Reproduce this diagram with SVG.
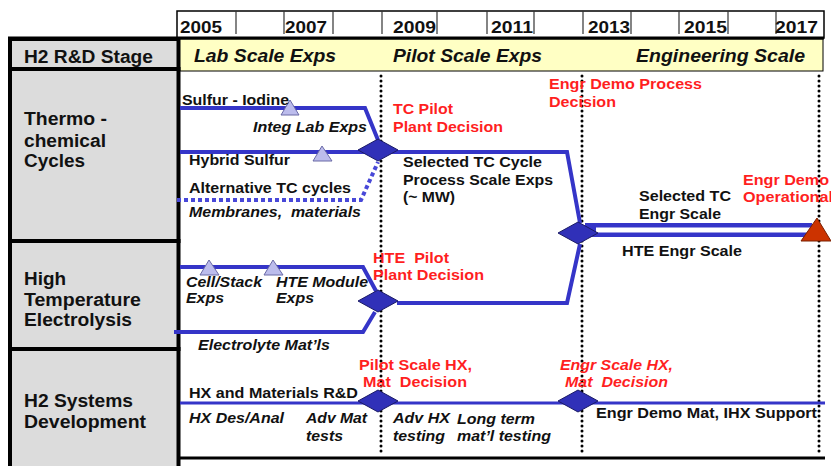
<svg xmlns="http://www.w3.org/2000/svg" width="831" height="466" viewBox="0 0 831 466">
  <defs>
    <style>
      .t { font-family: "Liberation Sans", Arial, sans-serif; font-weight: bold; font-size: 15px; fill: #111; }
      .i { font-style: italic; }
      .r { fill: #ff1f1f; }
      .row { font-size: 18px; }
      .yr { font-size: 17px; }
      .stg { font-size: 18px; font-style: italic; }
      .cell { fill: #dcdcdc; stroke: #000; stroke-width: 4; }
      .div { stroke: #333; stroke-width: 1.2; }
      .lane { fill: none; stroke: #3535c8; stroke-width: 4; }
      .alt { fill: none; stroke: #4848d8; stroke-width: 4; stroke-dasharray: 4 3; }
      .dots { stroke: #000; stroke-width: 3; stroke-linecap: round; stroke-dasharray: 0 5; }
      .ms { fill: #3030b8; stroke: #1a1a66; stroke-width: 1; }
      .tri { fill: #bcbcec; stroke: #6a6aa6; stroke-width: 1; }
    </style>
  </defs>

  <rect width="831" height="466" fill="#fff"/>

  <!-- year scale -->
  <g id="years">
    <rect x="177" y="11" width="647" height="27" fill="#fff" stroke="#000" stroke-width="1.5"/>
    <g class="div">
      <line x1="236" y1="11" x2="236" y2="34"/>
      <line x1="284" y1="11" x2="284" y2="34"/>
      <line x1="333" y1="11" x2="333" y2="34"/>
      <line x1="382" y1="11" x2="382" y2="34"/>
      <line x1="437" y1="11" x2="437" y2="34"/>
      <line x1="487" y1="11" x2="487" y2="34"/>
      <line x1="534" y1="11" x2="534" y2="34"/>
      <line x1="583" y1="11" x2="583" y2="34"/>
      <line x1="631" y1="11" x2="631" y2="34"/>
      <line x1="679" y1="11" x2="679" y2="34"/>
      <line x1="728" y1="11" x2="728" y2="34"/>
      <line x1="776" y1="11" x2="776" y2="34"/>
    </g>
    <text class="t yr" x="180" y="33" textLength="42" lengthAdjust="spacingAndGlyphs">2005</text>
    <text class="t yr" x="285" y="33" textLength="42" lengthAdjust="spacingAndGlyphs">2007</text>
    <text class="t yr" x="393" y="33" textLength="43" lengthAdjust="spacingAndGlyphs">2009</text>
    <text class="t yr" x="491" y="33" textLength="42" lengthAdjust="spacingAndGlyphs">2011</text>
    <text class="t yr" x="588" y="33" textLength="42" lengthAdjust="spacingAndGlyphs">2013</text>
    <text class="t yr" x="684" y="33" textLength="43" lengthAdjust="spacingAndGlyphs">2015</text>
    <text class="t yr" x="775" y="33" textLength="43" lengthAdjust="spacingAndGlyphs">2017</text>
  </g>

  <!-- stage band -->
  <g id="stage-band">
    <rect x="178" y="39" width="645" height="32" fill="#ffffc4" stroke="#000" stroke-width="1"/>
    <text class="t stg" x="194" y="62" textLength="142" lengthAdjust="spacingAndGlyphs">Lab Scale Exps</text>
    <text class="t stg" x="393" y="62" textLength="149" lengthAdjust="spacingAndGlyphs">Pilot Scale Exps</text>
    <text class="t stg" x="636" y="62" textLength="169" lengthAdjust="spacingAndGlyphs">Engineering Scale</text>
  </g>

  <!-- row headers -->
  <g id="row-stage">
    <rect class="cell" x="10" y="39" width="168.5" height="30"/>
    <text class="t row" x="24" y="63" textLength="129" lengthAdjust="spacingAndGlyphs">H2 R&amp;D Stage</text>
  </g>
  <g id="row-thermo">
    <rect class="cell" x="10" y="69" width="168.5" height="172"/>
    <text class="t row" x="24" y="125" textLength="83" lengthAdjust="spacingAndGlyphs">Thermo -</text>
    <text class="t row" x="24" y="147" textLength="82" lengthAdjust="spacingAndGlyphs">chemical</text>
    <text class="t row" x="24" y="167" textLength="61" lengthAdjust="spacingAndGlyphs">Cycles</text>
  </g>
  <g id="row-hte">
    <rect class="cell" x="10" y="241" width="168.5" height="108"/>
    <text class="t row" x="24" y="285" textLength="42" lengthAdjust="spacingAndGlyphs">High</text>
    <text class="t row" x="24" y="306" textLength="117" lengthAdjust="spacingAndGlyphs">Temperature</text>
    <text class="t row" x="24" y="326" textLength="108" lengthAdjust="spacingAndGlyphs">Electrolysis</text>
  </g>
  <g id="row-systems">
    <rect class="cell" x="10" y="349" width="168.5" height="130"/>
    <text class="t row" x="24" y="407" textLength="109" lengthAdjust="spacingAndGlyphs">H2 Systems</text>
    <text class="t row" x="24" y="428" textLength="122" lengthAdjust="spacingAndGlyphs">Development</text>
  </g>

  <!-- frame rules -->
  <line x1="8" y1="38" x2="824" y2="38" stroke="#000" stroke-width="3"/>
  <line x1="178" y1="458" x2="825" y2="458" stroke="#000" stroke-width="3"/>

  <!-- decision gates (dotted verticals) -->
  <g id="gates">
    <line class="dots" x1="381" y1="76" x2="381" y2="455"/>
    <line class="dots" x1="582" y1="76" x2="582" y2="452"/>
    <line class="dots" x1="819" y1="76" x2="819" y2="452"/>
  </g>

  <!-- connectors -->
  <g id="connectors">
    <path class="lane" d="M180,108 H365 L378,140"/>
    <path class="lane" d="M180,152 H567 L580,223"/>
    <path class="alt" d="M177,200 H361 L378,162"/>
    <path class="lane" d="M180,267 H363 L376,291"/>
    <path class="lane" d="M174,332 H363 L375,312"/>
    <path class="lane" d="M397,303 H567 L580,244"/>
    <line x1="585" y1="230" x2="812" y2="230" stroke="#3535c8" stroke-width="14"/>
    <line x1="596" y1="230" x2="812" y2="230" stroke="#fff" stroke-width="5"/>
    <line x1="180" y1="403" x2="825" y2="403" stroke="#3535c8" stroke-width="3"/>
  </g>

  <!-- milestones -->
  <g id="tri-si"><polygon class="tri" points="290,100 299,115 281,115"/></g>
  <g id="tri-hs"><polygon class="tri" points="322,146 332,161 313,161"/></g>
  <g id="tri-cell"><polygon class="tri" points="209,260 219,275 200,275"/></g>
  <g id="tri-module"><polygon class="tri" points="273,260 283,275 264,275"/></g>
  <g id="ms-tc-pilot"><polygon class="ms" points="358,150 378,139 398,150 378,161"/></g>
  <g id="ms-hte-pilot"><polygon class="ms" points="358,301 378,290 398,301 378,312"/></g>
  <g id="ms-hx-pilot"><polygon class="ms" points="358,401 378,390 398,401 378,412"/></g>
  <g id="ms-engr-process"><polygon class="ms" points="558,233 578,222 598,233 578,244"/></g>
  <g id="ms-engr-hx"><polygon class="ms" points="558,401 578,390 598,401 578,412"/></g>
  <g id="ms-engr-demo"><polygon points="817,218 831,241 801,241" fill="#cc3300" stroke="#7a2000" stroke-width="1"/></g>

  <!-- thermochemical labels -->
  <g id="lbl-thermo">
    <text class="t" x="182" y="105" textLength="107" lengthAdjust="spacingAndGlyphs">Sulfur - Iodine</text>
    <text class="t i" x="253" y="132" textLength="114" lengthAdjust="spacingAndGlyphs">Integ Lab Exps</text>
    <text class="t" x="189" y="165" textLength="101" lengthAdjust="spacingAndGlyphs">Hybrid Sulfur</text>
    <text class="t" x="189" y="193" textLength="162" lengthAdjust="spacingAndGlyphs">Alternative TC cycles</text>
    <text class="t i" x="189" y="217" textLength="172" lengthAdjust="spacingAndGlyphs" xml:space="preserve">Membranes,  materials</text>
    <text class="t r" x="393" y="114" textLength="60" lengthAdjust="spacingAndGlyphs">TC Pilot</text>
    <text class="t r" x="393" y="132" textLength="110" lengthAdjust="spacingAndGlyphs">Plant Decision</text>
    <text class="t r" x="549" y="89" textLength="153" lengthAdjust="spacingAndGlyphs">Engr Demo Process</text>
    <text class="t r" x="549" y="107" textLength="67" lengthAdjust="spacingAndGlyphs">Decision</text>
    <text class="t" x="403" y="167" textLength="139" lengthAdjust="spacingAndGlyphs">Selected TC Cycle</text>
    <text class="t" x="403" y="185" textLength="150" lengthAdjust="spacingAndGlyphs">Process Scale Exps</text>
    <text class="t" x="403" y="202" textLength="52" lengthAdjust="spacingAndGlyphs">(~ MW)</text>
    <text class="t" x="639" y="201" textLength="92" lengthAdjust="spacingAndGlyphs">Selected TC</text>
    <text class="t" x="639" y="219" textLength="82" lengthAdjust="spacingAndGlyphs">Engr Scale</text>
    <text class="t r" x="743" y="185" textLength="86" lengthAdjust="spacingAndGlyphs">Engr Demo</text>
    <text class="t r" x="743" y="202" textLength="90" lengthAdjust="spacingAndGlyphs">Operational</text>
  </g>

  <!-- electrolysis labels -->
  <g id="lbl-hte">
    <text class="t" x="622" y="256" textLength="120" lengthAdjust="spacingAndGlyphs">HTE Engr Scale</text>
    <text class="t r" x="373" y="263" textLength="76" lengthAdjust="spacingAndGlyphs" xml:space="preserve">HTE  Pilot</text>
    <text class="t r" x="373" y="280" textLength="111" lengthAdjust="spacingAndGlyphs">Plant Decision</text>
    <text class="t i" x="186" y="287" textLength="76" lengthAdjust="spacingAndGlyphs">Cell/Stack</text>
    <text class="t i" x="186" y="303" textLength="38" lengthAdjust="spacingAndGlyphs">Exps</text>
    <text class="t i" x="276" y="287" textLength="92" lengthAdjust="spacingAndGlyphs">HTE Module</text>
    <text class="t i" x="276" y="303" textLength="38" lengthAdjust="spacingAndGlyphs">Exps</text>
    <text class="t i" x="198" y="350" textLength="132" lengthAdjust="spacingAndGlyphs">Electrolyte Mat’ls</text>
  </g>

  <!-- systems labels -->
  <g id="lbl-systems">
    <text class="t r" x="359" y="370" textLength="113" lengthAdjust="spacingAndGlyphs">Pilot Scale HX,</text>
    <text class="t r" x="363" y="387" textLength="104" lengthAdjust="spacingAndGlyphs" xml:space="preserve">Mat  Decision</text>
    <text class="t" x="189" y="398" textLength="169" lengthAdjust="spacingAndGlyphs">HX and Materials R&amp;D</text>
    <text class="t i" x="189" y="423" textLength="95" lengthAdjust="spacingAndGlyphs">HX Des/Anal</text>
    <text class="t i" x="306" y="423" textLength="61" lengthAdjust="spacingAndGlyphs">Adv Mat</text>
    <text class="t i" x="306" y="441" textLength="37" lengthAdjust="spacingAndGlyphs">tests</text>
    <text class="t i" x="393" y="423" textLength="57" lengthAdjust="spacingAndGlyphs">Adv HX</text>
    <text class="t i" x="393" y="441" textLength="52" lengthAdjust="spacingAndGlyphs">testing</text>
    <text class="t i" x="457" y="424" textLength="78" lengthAdjust="spacingAndGlyphs">Long term</text>
    <text class="t i" x="457" y="441" textLength="94" lengthAdjust="spacingAndGlyphs">mat’l testing</text>
    <text class="t r i" x="560" y="370" textLength="113" lengthAdjust="spacingAndGlyphs">Engr Scale HX,</text>
    <text class="t r i" x="565" y="387" textLength="103" lengthAdjust="spacingAndGlyphs" xml:space="preserve">Mat  Decision</text>
    <text class="t" x="596" y="418" textLength="221" lengthAdjust="spacingAndGlyphs">Engr Demo Mat, IHX Support</text>
  </g>
</svg>
